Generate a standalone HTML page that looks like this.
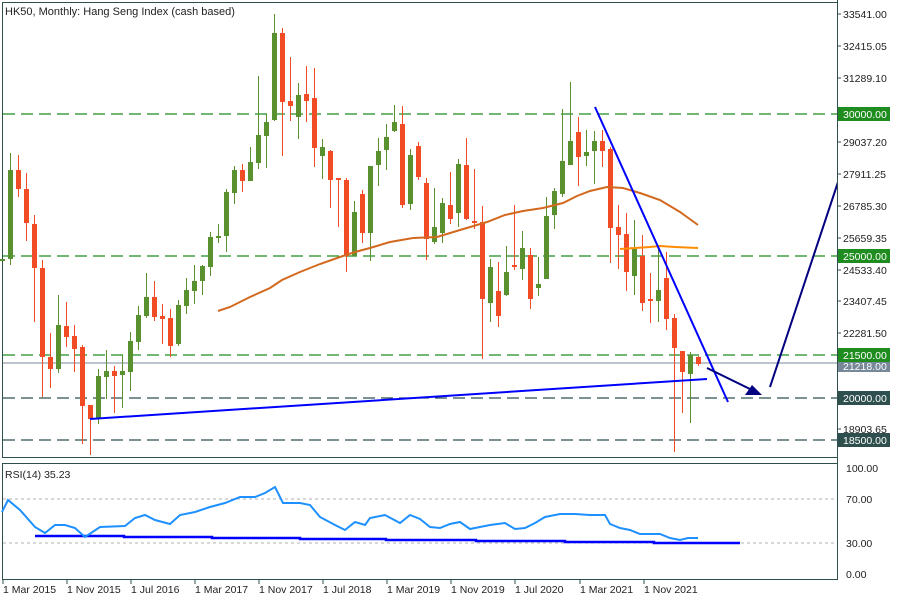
<!DOCTYPE html>
<html><head><meta charset="utf-8"><style>
body{margin:0;background:#fff;}
svg{display:block;font-family:"Liberation Sans",sans-serif;}
</style></head><body>
<svg id="s" width="900" height="600" xmlns="http://www.w3.org/2000/svg">
<rect x="0" y="0" width="900" height="600" fill="#fff"/>
<!-- panels -->
<rect x="2.5" y="2.5" width="835" height="455" fill="none" stroke="#2f4f4f"/>
<rect x="2.5" y="463.5" width="835" height="116" fill="none" stroke="#2f4f4f"/>
<!-- horizontal levels -->
<g stroke-width="1.2" stroke-dasharray="12,6">
<line x1="3" y1="114" x2="837" y2="114" stroke="#1e8c1e"/>
<line x1="3" y1="256" x2="837" y2="256" stroke="#1e8c1e"/>
<line x1="3" y1="355" x2="837" y2="355" stroke="#1e8c1e"/>
<line x1="3" y1="398" x2="837" y2="398" stroke="#2f4f4f"/>
<line x1="3" y1="440" x2="837" y2="440" stroke="#2f4f4f"/>
</g>
<line x1="3" y1="363" x2="837" y2="363" stroke="#778899" stroke-width="1"/>
<g id="candles"></g>
<!-- MAs -->
<polyline fill="none" stroke="#d2691e" stroke-width="2" points="218,311 230,307 250,297 270,288 282,280 300,272 320,264 340,257 355,252 370,248 390,242 413,238 437,237 460,230 487,222 505,215 523,211 543,208 563,203 577,196 590,191 607,187 623,188 640,193 660,200 680,212 698,225"/>
<polyline fill="none" stroke="#ff8c00" stroke-width="2" points="620,249 635,248 650,247 660,246 675,247 698,248"/>
<!-- trend lines -->
<line x1="90" y1="419" x2="707" y2="379" stroke="#0000ff" stroke-width="2"/>
<line x1="595" y1="107" x2="728" y2="402" stroke="#0000ff" stroke-width="2"/>
<line x1="707" y1="368" x2="752" y2="390" stroke="#000080" stroke-width="2"/>
<polygon points="762,395 745,395 752,385" fill="#000080"/>
<line x1="770" y1="387" x2="842" y2="170" stroke="#000080" stroke-width="2"/>
<!-- cover for right area -->
<rect x="838" y="0" width="62" height="600" fill="#fff"/>
<line x1="837.5" y1="0" x2="837.5" y2="580" stroke="#2f4f4f"/>
<text x="5" y="15" font-size="11" fill="#222">HK50, Monthly:  Hang Seng Index (cash based)</text>
<!-- price axis -->
<g font-size="10.5" fill="#222">
<text x="843" y="18">33541.00</text>
<text x="843" y="50">32415.05</text>
<text x="843" y="82">31289.10</text>
<text x="843" y="146">29037.20</text>
<text x="843" y="178">27911.25</text>
<text x="843" y="210">26785.30</text>
<text x="843" y="242">25659.35</text>
<text x="843" y="274">24533.40</text>
<text x="843" y="305">23407.45</text>
<text x="843" y="337">22281.50</text>
<text x="843" y="433">18903.65</text>
</g>
<g stroke="#2f4f4f"><line x1="837" y1="14" x2="841" y2="14"/><line x1="837" y1="46" x2="841" y2="46"/><line x1="837" y1="78" x2="841" y2="78"/><line x1="837" y1="142" x2="841" y2="142"/><line x1="837" y1="174" x2="841" y2="174"/><line x1="837" y1="206" x2="841" y2="206"/><line x1="837" y1="238" x2="841" y2="238"/><line x1="837" y1="270" x2="841" y2="270"/><line x1="837" y1="301" x2="841" y2="301"/><line x1="837" y1="333" x2="841" y2="333"/><line x1="837" y1="429" x2="841" y2="429"/></g>
<g font-size="10.5" fill="#fff">
<rect x="838" y="107" width="52" height="14" fill="#1e8c1e"/><text x="843" y="118">30000.00</text>
<rect x="838" y="249" width="52" height="14" fill="#1e8c1e"/><text x="843" y="260">25000.00</text>
<rect x="838" y="348" width="52" height="14" fill="#1e8c1e"/><text x="843" y="359">21500.00</text>
<rect x="838" y="362" width="52" height="10" fill="#778899"/><text x="843" y="370">21218.00</text>
<rect x="838" y="391" width="52" height="14" fill="#2f4f4f"/><text x="843" y="402">20000.00</text>
<rect x="838" y="433" width="52" height="14" fill="#2f4f4f"/><text x="843" y="444">18500.00</text>
</g>
<!-- RSI -->
<line x1="3" y1="499" x2="837" y2="499" stroke="#b0b0b0" stroke-dasharray="3,3"/>
<line x1="3" y1="543" x2="837" y2="543" stroke="#b0b0b0" stroke-dasharray="3,3"/>
<polyline fill="none" stroke="#0000ff" stroke-width="2.5" points="35,536 124,536 124,537 212,537 212,538 300,538 300,539 386,539 386,540 476,540 476,541 565,541 565,542 654,542 654,543 740,543"/>
<polyline fill="none" stroke="#1e90ff" stroke-width="2" points="2,512 8,500 20,510 35,527 45,533 55,525 65,525 75,528 85,537 100,527 125,526 135,518 145,515 155,520 170,524 180,515 195,512 210,507 225,503 240,497 255,497 265,493 275,487 283,503 300,503 310,505 320,517 335,525 345,530 355,522 365,525 370,518 385,515 400,523 410,515 420,519 430,527 440,528 450,524 460,522 470,529 480,527 490,525 505,523 515,529 525,528 535,523 545,517 560,514 575,514 590,515 605,515 610,524 620,528 630,530 640,534 650,534 660,534 670,538 680,540 688,538 698,538"/>
<text x="5" y="478" font-size="10.5" fill="#222">RSI(14) 35.23</text>
<g font-size="10.5" fill="#222">
<text x="846" y="472">100.00</text><text x="846" y="503">70.00</text><text x="846" y="547">30.00</text><text x="846" y="578">0.00</text>
</g>
<!-- dates -->
<g font-size="10.5" fill="#222">
<text x="3" y="593">1 Mar 2015</text><text x="67" y="593">1 Nov 2015</text><text x="131" y="593">1 Jul 2016</text><text x="195" y="593">1 Mar 2017</text><text x="259" y="593">1 Nov 2017</text><text x="323" y="593">1 Jul 2018</text><text x="387" y="593">1 Mar 2019</text><text x="451" y="593">1 Nov 2019</text><text x="515" y="593">1 Jul 2020</text><text x="580" y="593">1 Mar 2021</text><text x="644" y="593">1 Nov 2021</text>
</g>
<g stroke="#2f4f4f"><line x1="3" y1="580" x2="3" y2="584"/><line x1="67" y1="580" x2="67" y2="584"/><line x1="131" y1="580" x2="131" y2="584"/><line x1="195" y1="580" x2="195" y2="584"/><line x1="259" y1="580" x2="259" y2="584"/><line x1="323" y1="580" x2="323" y2="584"/><line x1="387" y1="580" x2="387" y2="584"/><line x1="451" y1="580" x2="451" y2="584"/><line x1="515" y1="580" x2="515" y2="584"/><line x1="580" y1="580" x2="580" y2="584"/><line x1="644" y1="580" x2="644" y2="584"/></g>
</svg>
<script>
// [top, bottom, high, low, green]
var d=[[259,261,259,261,1],[170,259,153,265,1],[170,189,155,197,0],[189,223,173,241,0],[224,268,215,322,0],[268,357,260,397,0],[357,369,333,388,0],[325,369,295,373,1],[326,337,302,347,0],[336,349,325,372,0],[347,406,345,444,0],[405,419,405,455,0],[376,419,369,424,1],[371,377,350,399,1],[371,376,366,413,0],[371,375,355,408,1],[341,372,332,391,1],[315,342,306,350,1],[297,316,273,318,1],[297,317,281,321,0],[316,319,304,344,0],[318,346,309,357,0],[305,344,300,346,1],[290,306,278,314,1],[281,291,265,304,1],[266,281,265,295,1],[237,267,232,276,1],[236,238,224,243,1],[192,236,189,252,1],[170,193,166,204,1],[170,181,164,192,0],[162,181,147,181,1],[135,163,76,169,1],[122,136,114,168,1],[33,120,14,121,1],[33,102,28,156,0],[101,106,57,121,0],[95,117,83,139,1],[94,101,66,122,0],[98,148,68,167,0],[147,156,139,179,1],[151,180,150,208,0],[178,180,178,227,0],[180,256,178,272,0],[212,256,201,256,1],[194,233,190,243,0],[166,233,166,261,1],[151,165,138,186,1],[137,150,124,170,1],[122,131,105,132,1],[124,205,106,208,0],[155,204,149,210,1],[146,177,142,180,0],[183,239,178,260,0],[227,242,188,244,1],[203,233,198,243,1],[205,219,172,224,0],[164,213,159,227,1],[165,219,138,220,0],[221,222,169,229,0],[222,299,206,359,0],[267,303,259,322,1],[291,316,262,327,0],[272,295,246,296,1],[265,266,205,270,0],[248,269,231,280,1],[255,299,248,309,0],[284,288,257,296,1],[216,279,197,279,1],[191,215,188,229,1],[161,194,109,197,1],[141,165,82,165,1],[132,157,117,186,0],[152,156,130,166,1],[141,151,131,184,1],[141,151,130,167,0],[149,228,147,263,0],[227,235,205,269,0],[234,272,213,291,0],[249,276,220,295,1],[256,303,235,311,0],[299,301,273,323,0],[290,301,247,322,1],[278,319,252,330,0],[318,348,314,452,0],[351,372,351,413,0],[355,374,352,423,1],[357,364,356,366,0]];
var g=document.getElementById('candles'),h='';
for(var i=0;i<d.length;i++){var c=d[i],x=2.5+8*i,col=c[4]?'#5a9130':'#f24c26';
h+='<line x1="'+x+'" y1="'+c[2]+'" x2="'+x+'" y2="'+c[3]+'" stroke="'+col+'" stroke-width="1"/>';
var hh=Math.max(c[1]-c[0],2);h+='<rect x="'+(x-2.5)+'" y="'+c[0]+'" width="5" height="'+hh+'" fill="'+col+'"/>';}
g.innerHTML=h;
</script>
</body></html>
